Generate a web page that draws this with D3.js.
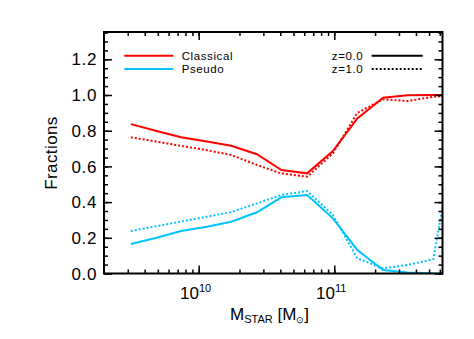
<!DOCTYPE html>
<meta charset="utf-8">
<script src="https://d3js.org/d3.v7.min.js"></script>
<style>
    body { margin: 0; background: #fff; }
    svg text { font-family: "Liberation Sans", Arial, sans-serif; fill: #000; }
</style>
<div id="my_dataviz"></div>
<script>

    // data (log10 stellar mass bins)
    var logMass = [9.50, 9.69, 9.87, 10.06, 10.24, 10.43, 10.61, 10.80, 10.99, 11.17, 11.36, 11.54, 11.73, 11.91]
    var classicalZ0 = [0.837, 0.798, 0.763, 0.739, 0.716, 0.668, 0.580, 0.561, 0.686, 0.869, 0.985, 0.998, 1.0, 1.0]
    var classicalZ1 = [0.763, 0.739, 0.715, 0.691, 0.664, 0.608, 0.560, 0.542, 0.673, 0.900, 0.976, 0.966, 0.99, 1.0]
    var pseudoZ0 = [0.165, 0.200, 0.238, 0.262, 0.290, 0.343, 0.427, 0.440, 0.309, 0.132, 0.020, 0.005, 0.0, 0.0]
    var pseudoZ1 = [0.238, 0.265, 0.291, 0.318, 0.344, 0.393, 0.440, 0.462, 0.328, 0.085, 0.029, 0.048, 0.080, 0.85]

    var yTicks = [0.0, 0.2, 0.4, 0.6, 0.8, 1.0, 1.2]
    var xTickExp = [10, 11]

    var red = "#ff0000", cyan = "#00c4ff"

    // dimensions
    var W = 474, H = 339
    var margin = { top: 32, right: 31.5, bottom: 65.5, left: 104 }
    var width = W - margin.left - margin.right,
        height = H - margin.top - margin.bottom

    var svg = d3.select("#my_dataviz")
        .append("svg")
        .attr("width", W)
        .attr("height", H)
    var g = svg.append("g")
        .attr("transform", "translate(" + margin.left + "," + margin.top + ")")

    var x = d3.scaleLog()
        .domain([Math.pow(10, 9.302), Math.pow(10, 11.798)])
        .range([0, width])
    var y = d3.scaleLinear()
        .domain([0, 1.353])
        .range([height, 0])

    g.append("clipPath").attr("id", "clip")
        .append("rect").attr("width", width).attr("height", height)

    // lines
    var line = function (vals) {
        return d3.line()
            .x(function (d, i) { return x(Math.pow(10, logMass[i])) })
            .y(function (d) { return y(d) })(vals)
    }
    var series = [
        { v: classicalZ0, c: red, dash: null },
        { v: classicalZ1, c: red, dash: "2,2" },
        { v: pseudoZ0, c: cyan, dash: null },
        { v: pseudoZ1, c: cyan, dash: "2,2" }
    ]
    g.append("g").attr("clip-path", "url(#clip)")
        .selectAll("path")
        .data(series)
        .enter().append("path")
        .attr("d", function (d) { return line(d.v) })
        .attr("fill", "none")
        .attr("stroke", function (d) { return d.c })
        .attr("stroke-width", 2)
        .attr("stroke-dasharray", function (d) { return d.dash })

    // minor tick values
    var yMinor = d3.range(0, 1.36, 0.05)
    var xMinor = []
    d3.range(9, 12).forEach(function (e) {
        d3.range(1, 10).forEach(function (m) {
            var v = m * Math.pow(10, e)
            if (v >= x.domain()[0] && v <= x.domain()[1]) xMinor.push(v)
        })
    })
    var xMajor = xTickExp.map(function (e) { return Math.pow(10, e) })

    function styleAxis(sel) {
        sel.select(".domain").remove()
        sel.selectAll("line").attr("stroke", "#000").attr("stroke-width", 1.5)
    }

    // inward ticks on all four sides
    g.append("g").call(d3.axisLeft(y).tickValues(yMinor).tickSize(-4).tickFormat("")).call(styleAxis)
    g.append("g").call(d3.axisLeft(y).tickValues(yTicks).tickSize(-8).tickFormat("")).call(styleAxis)
    g.append("g").attr("transform", "translate(" + width + ",0)")
        .call(d3.axisRight(y).tickValues(yMinor).tickSize(-4).tickFormat("")).call(styleAxis)
    g.append("g").attr("transform", "translate(" + width + ",0)")
        .call(d3.axisRight(y).tickValues(yTicks).tickSize(-8).tickFormat("")).call(styleAxis)
    g.append("g").attr("transform", "translate(0," + height + ")")
        .call(d3.axisBottom(x).tickValues(xMinor).tickSize(-4).tickFormat("")).call(styleAxis)
    g.append("g").attr("transform", "translate(0," + height + ")")
        .call(d3.axisBottom(x).tickValues(xMajor).tickSize(-8).tickFormat("")).call(styleAxis)
    g.append("g").call(d3.axisTop(x).tickValues(xMinor).tickSize(-4).tickFormat("")).call(styleAxis)
    g.append("g").call(d3.axisTop(x).tickValues(xMajor).tickSize(-8).tickFormat("")).call(styleAxis)

    // frame
    g.append("rect")
        .attr("width", width).attr("height", height)
        .attr("fill", "none").attr("stroke", "#000").attr("stroke-width", 2)

    // y tick labels
    g.selectAll(".ylab")
        .data(yTicks)
        .enter().append("text")
        .attr("x", -7)
        .attr("y", function (d) { return y(d) })
        .attr("dy", "0.36em")
        .attr("text-anchor", "end")
        .style("font-size", "17px")
        .style("letter-spacing", "0.6px")
        .text(function (d) { return d.toFixed(1) })

    // x tick labels 10^n
    var xl = g.selectAll(".xlab")
        .data(xTickExp)
        .enter().append("text")
        .attr("x", function (d) { return x(Math.pow(10, d)) - 3 })
        .attr("y", height + 25)
        .attr("text-anchor", "middle")
        .style("font-size", "17px")
    xl.append("tspan").text("10")
    xl.append("tspan").attr("dy", -7).style("font-size", "11px").text(function (d) { return d })

    // axis titles
    svg.append("text")
        .attr("transform", "translate(57," + (margin.top + 121) + ") rotate(-90)")
        .attr("text-anchor", "middle")
        .style("font-size", "17px")
        .style("letter-spacing", "0.4px")
        .text("Fractions")

    var xt = svg.append("text")
        .attr("x", 230)
        .attr("y", 320)
        .style("font-size", "17px")
    xt.append("tspan").text("M")
    xt.append("tspan").attr("dy", 3).style("font-size", "11px").text("STAR")
    xt.append("tspan").attr("dy", -3).text(" [M")
    xt.append("tspan").attr("dy", 3).style("font-size", "9px").text("\u2299")
    xt.append("tspan").attr("dy", -3).text("]")

    // legends
    var legL = [{ t: "Classical", c: red }, { t: "Pseudo", c: cyan }]
    var legR = [{ t: "z=0.0", dash: null }, { t: "z=1.0", dash: "2,2" }]
    legL.forEach(function (d, i) {
        var yy = 55.7 + i * 13.3
        svg.append("line").attr("x1", 124.3).attr("x2", 173.3).attr("y1", yy).attr("y2", yy)
            .attr("stroke", d.c).attr("stroke-width", 2)
        svg.append("text").attr("x", 181.7).attr("y", yy).attr("dy", "0.36em")
            .style("font-size", "11.5px").style("letter-spacing", "0.6px").text(d.t)
    })
    legR.forEach(function (d, i) {
        var yy = 55.7 + i * 13.3
        svg.append("line").attr("x1", 371.7).attr("x2", 422.7).attr("y1", yy).attr("y2", yy)
            .attr("stroke", "#000").attr("stroke-width", 2).attr("stroke-dasharray", d.dash)
        svg.append("text").attr("x", 363.3).attr("y", yy).attr("dy", "0.36em")
            .attr("text-anchor", "end")
            .style("font-size", "11.5px").style("letter-spacing", "0.6px").text(d.t)
    })

</script>
